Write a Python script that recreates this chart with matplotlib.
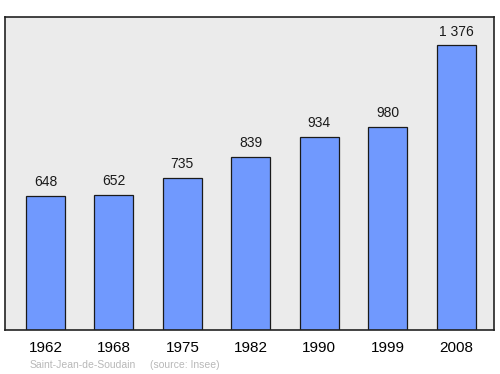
import matplotlib.pyplot as plt

years = ['1962', '1968', '1975', '1982', '1990', '1999', '2008']
population = [648, 652, 735, 839, 934, 980, 1376]
value_labels = ['648', '652', '735', '839', '934', '980', '1 376']

plt.rcParams['font.family'] = ['Liberation Sans', 'DejaVu Sans']

fig = plt.figure(figsize=(5, 3.74), dpi=100)
ax = fig.add_axes([0.01, 1 - 330 / 374, 0.978, 313 / 374])
ax.set_facecolor('#ebebeb')

x = range(len(years))
ax.bar(x, population, width=0.57, color='#7099fe', edgecolor='#1a1a1a', linewidth=0.9, zorder=2)
for i, (v, lab) in enumerate(zip(population, value_labels)):
    ax.annotate(lab, (i, v), xytext=(0, 5), textcoords='offset points',
                ha='center', va='bottom', fontsize=10, color='#1a1a1a')

ax.set_xlim(-0.592, 6.554)
ax.set_ylim(0, 1376 * 1.1)
ax.set_xticks(list(x))
ax.set_xticklabels(years, fontsize=11)
ax.tick_params(axis='x', length=0, pad=8)
ax.set_yticks([])
for s in ax.spines.values():
    s.set_linewidth(1.2)
    s.set_color('#222222')

fig.text(30 / 500, 1 - 365 / 374, 'Saint-Jean-de-Soudain', fontsize=7.5, color='#b8b8b8', va='center')
fig.text(150 / 500, 1 - 365 / 374, '(source: Insee)', fontsize=7.5, color='#b8b8b8', va='center')

fig.savefig('out.png', dpi=100)
